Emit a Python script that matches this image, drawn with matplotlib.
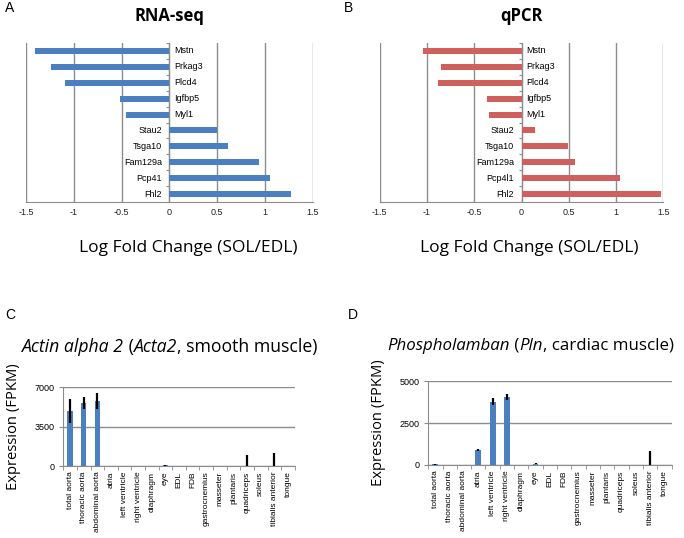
import numpy as np
import matplotlib
matplotlib.use("Agg")
import matplotlib.pyplot as plt

# ---- data ----
genes_rnaseq = ["Mstn", "Prkag3", "Plcd4", "Igfbp5", "Myl1",
                "Stau2", "Tsga10", "Fam129a", "Pcp41", "Fhl2"]
lfc_rnaseq = [-1.41, -1.24, -1.09, -0.52, -0.45, 0.50, 0.61, 0.94, 1.05, 1.27]

genes_qpcr = ["Mstn", "Prkag3", "Plcd4", "Igfbp5", "Myl1",
              "Stau2", "Tsga10", "Fam129a", "Pcp4l1", "Fhl2"]
lfc_qpcr = [-1.04, -0.85, -0.88, -0.36, -0.345, 0.14, 0.49, 0.57, 1.04, 1.47]

tissues = ["total aorta", "thoracic aorta", "abdominal aorta", "atria",
           "left ventricle", "right ventricle", "diaphragm", "eye", "EDL",
           "FDB", "gastrocnemius", "masseter", "plantaris", "quadriceps",
           "soleus", "tibialis anterior", "tongue"]
acta2_mean = [4920, 5630, 5810, 10, 5, 5, 10, 60, 5, 5, 5, 5, 5, 20, 5, 20, 5]
acta2_err = [1050, 520, 700, 0, 0, 0, 0, 40, 0, 0, 0, 0, 0, 940, 0, 1180, 0]
pln_mean = [30, 5, 5, 900, 3780, 4060, 10, 60, 5, 5, 5, 5, 5, 5, 5, 20, 5]
pln_err = [20, 0, 0, 40, 220, 170, 0, 30, 0, 0, 0, 0, 0, 0, 0, 810, 0]

title_c = [("Actin alpha 2", "italic"), (" (", "normal"), ("Acta2", "italic"),
           (", smooth muscle)", "normal")]
title_d = [("Phospholamban", "italic"), (" (", "normal"), ("Pln", "italic"),
           (", cardiac muscle)", "normal")]

blue = "#4a7fc1"
red = "#d0605d"
grid_c = "#8c8c8c"
tick_font = "Liberation Sans"
label_font = "Open Sans"

fig = plt.figure(figsize=(6.84, 5.38), dpi=100)
renderer = fig.canvas.get_renderer()


def lfc_panel(rect, genes, vals, color, title, xlab_x):
    ax = fig.add_axes(rect)
    y = np.arange(len(genes))
    ax.barh(y, vals, height=0.38, color=color, zorder=3)
    ax.set_xlim(-1.5, 1.5)
    ax.set_ylim(len(genes) - 0.5, -0.5)
    ax.set_xticks([-1.5, -1, -0.5, 0, 0.5, 1, 1.5])
    ax.set_xticklabels(["-1.5", "-1", "-0.5", "0", "0.5", "1", "1.5"],
                       fontsize=6.5, family=tick_font)
    ax.xaxis.grid(True, color=grid_c, linewidth=1, zorder=0)
    ax.tick_params(axis="x", length=0, pad=4, colors="#222222")
    for s in ["top", "right"]:
        ax.spines[s].set_visible(False)
    ax.spines["bottom"].set_color(grid_c)
    ax.spines["left"].set_position(("data", 0))
    ax.spines["left"].set_color(grid_c)
    ax.set_yticks(np.arange(len(genes) + 1) - 0.5)
    ax.set_yticklabels([])
    ax.tick_params(axis="y", length=2, color=grid_c, direction="out")
    for yi, (g, v) in enumerate(zip(genes, vals)):
        if v < 0:
            ax.text(0.05, yi, g, ha="left", va="center", fontsize=6.5,
                    family=tick_font, zorder=4)
        else:
            ax.text(-0.08, yi, g, ha="right", va="center", fontsize=6.5,
                    family=tick_font, zorder=4)
    ax.set_xlabel("Log Fold Change (SOL/EDL)", fontsize=12.5,
                  family=label_font)
    ax.xaxis.set_label_coords(xlab_x, -0.24)
    ax.set_title(title, fontsize=12, fontweight="bold", family=label_font,
                 pad=16)
    return ax


def expr_panel(rect, means, errs, ymax, ytick_vals):
    ax = fig.add_axes(rect)
    x = np.arange(len(tissues))
    ax.bar(x, means, width=0.4, color=blue, zorder=3,
           yerr=errs, error_kw=dict(ecolor="black", elinewidth=1.6,
                                    capsize=0, zorder=4))
    ax.set_xlim(-0.5, len(tissues) - 0.5)
    ax.set_ylim(0, ymax)
    ax.set_yticks(ytick_vals)
    ax.set_yticklabels([str(v) for v in ytick_vals], fontsize=6.5,
                       family=tick_font)
    ax.yaxis.grid(True, color=grid_c, linewidth=1, zorder=0)
    ax.set_xticks(x)
    ax.set_xticklabels(tissues, rotation=90, fontsize=6, family=tick_font)
    ax.set_xticks(np.arange(len(tissues) + 1) - 0.5, minor=True)
    ax.tick_params(axis="x", which="major", length=0, pad=4)
    ax.tick_params(axis="x", which="minor", length=3, color=grid_c)
    ax.tick_params(axis="y", length=3, color=grid_c, pad=3)
    for s in ["top", "right"]:
        ax.spines[s].set_visible(False)
    ax.spines["bottom"].set_color(grid_c)
    ax.spines["left"].set_color(grid_c)
    ax.set_ylabel("Expression (FPKM)", fontsize=10.6, family=label_font,
                  labelpad=10)
    return ax


def chain_title(x, y, parts, size):
    # write the title piece by piece so italic and upright parts share a baseline
    fig_w = fig.bbox.width
    for txt, st in parts:
        t = fig.text(x, y, txt, fontsize=size, family=label_font, style=st,
                     va="baseline", ha="left")
        bb = t.get_window_extent(renderer)
        x = bb.x1 / fig_w


lfc_panel([0.038, 0.6245, 0.4196, 0.2955], genes_rnaseq, lfc_rnaseq, blue,
          "RNA-seq", 0.564)
lfc_panel([0.555, 0.6245, 0.415, 0.2955], genes_qpcr, lfc_qpcr, red,
          "qPCR", 0.528)

expr_panel([0.0925, 0.1338, 0.3385, 0.1462], acta2_mean, acta2_err,
           7000, [0, 3500, 7000])
expr_panel([0.626, 0.1357, 0.356, 0.1561], pln_mean, pln_err,
           5000, [0, 2500, 5000])

chain_title(0.032, 0.346, title_c, 12.7)
chain_title(0.566, 0.350, title_d, 12.2)

# panel letters
for lx, ly, letter in [(0.007, 0.985, "A"), (0.503, 0.985, "B"),
                       (0.007, 0.415, "C"), (0.509, 0.415, "D")]:
    fig.text(lx, ly, letter, fontsize=10, family=tick_font, va="center")

fig.savefig("out.png", dpi=100)
